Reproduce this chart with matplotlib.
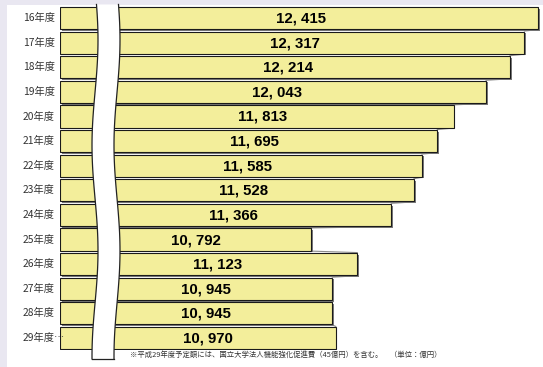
import matplotlib.pyplot as plt
import matplotlib.patheffects as pe
import matplotlib.transforms as mtransforms
from matplotlib.patches import Rectangle, Polygon
import numpy as np

# 国立大学法人運営費交付金の推移（単位：億円）
years = ['16年度', '17年度', '18年度', '19年度', '20年度', '21年度', '22年度',
         '23年度', '24年度', '25年度', '26年度', '27年度', '28年度', '29年度…']
values = [12415, 12317, 12214, 12043, 11813, 11695, 11585,
          11528, 11366, 10792, 11123, 10945, 10945, 10970]
note = '※平成29年度予定額には、国立大学法人機能強化促進費（45億円）を含む。　（単位：億円）'

base = 9000
bar_color = '#f3ee9b'

fig = plt.figure(figsize=(5.43, 3.67), dpi=100, facecolor='#e9e7f1')
W, H = 543, 367
# 白い描画領域（上と左に薄い枠が残る）
fig.patches.append(Rectangle((7 / W, 0), 1 - 7 / W, 1 - 5 / H, transform=fig.transFigure,
                             facecolor='white', edgecolor='none', zorder=-5))

ax = fig.add_axes([60 / W, 1 - 350.3 / H, 1 - 60 / W, (350.3 - 5.7) / H])
ax.patch.set_alpha(0)
for s in ax.spines.values():
    s.set_visible(False)
ax.set_xticks([])
ax.set_yticks([])

y = np.arange(len(values))
vals = np.array(values)
bars = ax.barh(y, vals - base, left=base, height=0.9, color=bar_color,
               edgecolor='#1a1a1a', linewidth=0.8, zorder=2)
for b in bars:
    b.set_path_effects([pe.SimplePatchShadow(offset=(1.2, -1.2), shadow_rgbFace='#7a7a7a', alpha=1),
                        pe.Normal()])

# 棒の先端をつなぐ区分線
for i in range(len(vals) - 1):
    ax.plot([vals[i], vals[i + 1]], [i + 0.47, i + 1 - 0.47], color='#8c8c8c',
            linewidth=0.8, zorder=1)

ax.set_xlim(base, 12450)
ax.set_ylim(len(vals) - 0.5, -0.5)

# 数値ラベル
for i, v in enumerate(vals):
    lx = base + 150 + 0.46 * (v - base)
    ax.text(lx, i + 0.02, f'{v // 1000}, {v % 1000:03d}', ha='center', va='center',
            fontsize=10.8, fontweight='bold',
            family=['Liberation Sans', 'DejaVu Sans'], color='black', zorder=4)

# 年度ラベル
lab_tr = mtransforms.blended_transform_factory(fig.transFigure, ax.transData)
for i, lab in enumerate(years):
    ax.text(23 / W, i, lab, transform=lab_tr, ha='left', va='center', fontsize=7.4,
            family=['Noto Sans CJK JP', 'DejaVu Sans'], color='#333333')

# 軸の省略（波形の切れ目）
ys = np.linspace(-0.55, 13.85, 80)
px_per = 483 / (12450 - base)
wave = 3.0 * np.sin(2 * np.pi * (ys + 0.3) / 8.57 + 0.7)
left = base + (95 - 60 + wave) / px_per
right = left + 22 / px_per
pts = np.vstack([np.column_stack([left, ys]), np.column_stack([right[::-1], ys[::-1]])])
ax.add_patch(Polygon(pts, closed=True, facecolor='white', edgecolor='none',
                     zorder=3, clip_on=False))
ax.plot(left, ys, color='#222222', linewidth=0.9, zorder=3, clip_on=False)
ax.plot(right, ys, color='#222222', linewidth=0.9, zorder=3, clip_on=False)
ax.plot([left[-1], right[-1]], [ys[-1], ys[-1]], color='#222222', linewidth=0.9,
        zorder=3, clip_on=False)

fig.text(130 / W, 1 - 355 / H, note, ha='left', va='center', fontsize=5.3,
         family=['Noto Sans CJK JP', 'DejaVu Sans'], color='#333333')

fig.savefig('out.png', dpi=100, facecolor=fig.get_facecolor())
